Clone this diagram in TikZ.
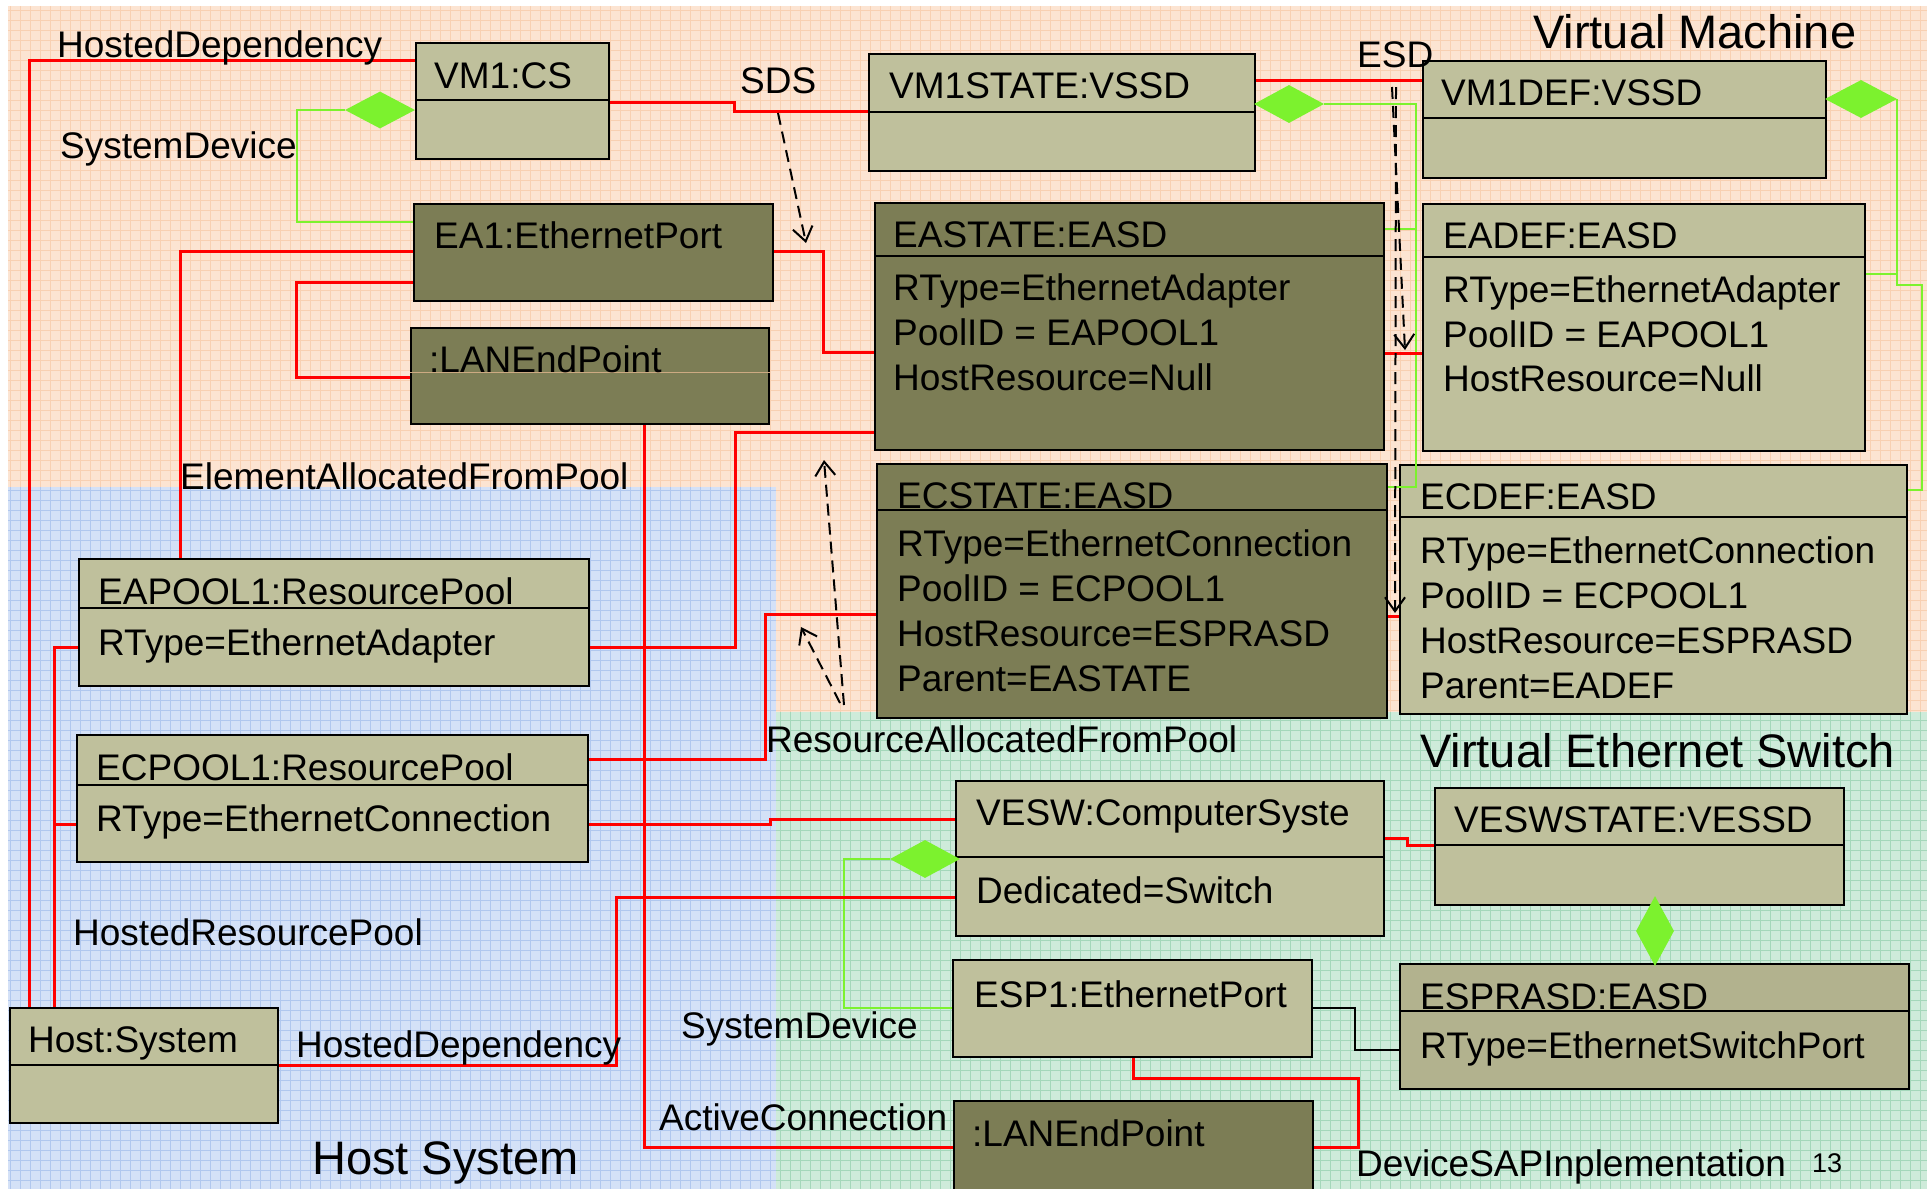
\documentclass[tikz,border=0pt]{standalone}
\usepackage{fontspec}
\setmainfont{Liberation Sans}
\usetikzlibrary{shapes.geometric,arrows.meta}
\definecolor{peach}{RGB}{252,228,210}
\definecolor{peachgrid}{RGB}{248,208,178}
\definecolor{hostblue}{RGB}{212,225,247}
\definecolor{hostgrid}{RGB}{176,199,238}
\definecolor{swgreen}{RGB}{206,235,218}
\definecolor{swgrid}{RGB}{164,215,186}
\definecolor{boxlight}{RGB}{191,192,156}
\definecolor{boxdark}{RGB}{124,125,85}
\definecolor{boxmid}{RGB}{178,178,142}
\definecolor{relred}{RGB}{255,0,0}
\definecolor{aggreen}{RGB}{124,242,46}
\definecolor{tanline}{RGB}{205,170,130}
\tikzset{
  lbox/.style={draw=black,line width=2pt,fill=boxlight,anchor=north west,inner sep=0pt},
  dbox/.style={lbox,fill=boxdark},
  mbox/.style={lbox,fill=boxmid},
  divline/.style={draw=black,line width=2pt},
  txt/.style={anchor=base west,inner sep=0pt,font=\fontsize{37}{44}\selectfont},
  big/.style={txt,font=\fontsize{47}{54}\selectfont},
  agg/.style={diamond,fill=aggreen,inner sep=0pt},
  rline/.style={draw=relred,line width=3pt},
  gline/.style={draw=aggreen,line width=2pt},
  bline/.style={draw=black,line width=2pt},
  darrow/.style={draw=black,line width=2pt,dash pattern=on 12pt off 7pt,-{Straight Barb[length=14pt,width=20pt]}}
}
\begin{document}
\begin{tikzpicture}[x=1pt,y=-1pt]
  \useasboundingbox (0,0) rectangle (1931,1189);
  % background areas
  \begin{scope}[y=1pt]
    \fill[white] (0,-1189) rectangle (1931,0);
    \fill[peach] (8,-1189) rectangle (1927,-6);
    \draw[peachgrid,line width=0.8pt,step=10pt] (8,-1189) grid (1927,-6);
    \fill[hostblue] (8,-1189) rectangle (776,-487);
    \draw[hostgrid,line width=0.8pt,step=10pt] (8,-1189) grid (776,-487);
    \fill[swgreen] (776,-1189) rectangle (1927,-712);
    \draw[swgrid,line width=0.8pt,step=10pt] (776,-1189) grid (1927,-712);
  \end{scope}

  % boxes
  \node[lbox,minimum width=193pt,minimum height=116pt] (vmcs) at (415,42) {};
  \node[dbox,minimum width=359pt,minimum height=97pt] (eaport) at (413,203) {};
  \node[dbox,minimum width=358pt,minimum height=96pt] (lanup) at (410,327) {};
  \node[lbox,minimum width=386pt,minimum height=117pt] (vmstate) at (868,53) {};
  \node[lbox,minimum width=403pt,minimum height=117pt] (vmdef) at (1422,60) {};
  \node[dbox,minimum width=509pt,minimum height=247pt] (eastate) at (874,202) {};
  \node[lbox,minimum width=442pt,minimum height=247pt] (eadef) at (1422,203) {};
  \node[dbox,minimum width=510pt,minimum height=254pt] (ecstate) at (876,463) {};
  \node[lbox,minimum width=507pt,minimum height=249pt] (ecdef) at (1399,464) {};
  \node[lbox,minimum width=510pt,minimum height=127pt] (eapool) at (78,558) {};
  \node[lbox,minimum width=511pt,minimum height=127pt] (ecpool) at (76,734) {};
  \node[lbox,minimum width=268pt,minimum height=115pt] (host) at (9,1007) {};
  \node[lbox,minimum width=428pt,minimum height=155pt] (vesw) at (955,780) {};
  \node[lbox,minimum width=409pt,minimum height=117pt] (veswstate) at (1434,787) {};
  \node[lbox,minimum width=359pt,minimum height=97pt] (esp) at (952,959) {};
  \node[mbox,minimum width=509pt,minimum height=125pt] (esprasd) at (1399,963) {};
  \node[dbox,minimum width=359pt,minimum height=95pt] (lanlow) at (953,1100) {};

  \draw[divline] (vmcs.west |- 0,100) -- (vmcs.east |- 0,100);
  \draw[divline] (vmstate.west |- 0,112) -- (vmstate.east |- 0,112);
  \draw[divline] (vmdef.west |- 0,118) -- (vmdef.east |- 0,118);
  \draw[divline] (eastate.west |- 0,256) -- (eastate.east |- 0,256);
  \draw[divline] (eadef.west |- 0,257) -- (eadef.east |- 0,257);
  \draw[divline] (ecstate.west |- 0,510) -- (ecstate.east |- 0,510);
  \draw[divline] (ecdef.west |- 0,517) -- (ecdef.east |- 0,517);
  \draw[divline] (eapool.west |- 0,608) -- (eapool.east |- 0,608);
  \draw[divline] (ecpool.west |- 0,785) -- (ecpool.east |- 0,785);
  \draw[divline] (host.west |- 0,1065) -- (host.east |- 0,1065);
  \draw[divline] (vesw.west |- 0,857) -- (vesw.east |- 0,857);
  \draw[divline] (veswstate.west |- 0,845) -- (veswstate.east |- 0,845);
  \draw[divline] (esprasd.west |- 0,1011) -- (esprasd.east |- 0,1011);
  \draw[tanline,line width=0.8pt] (lanup.west |- 0,372) -- (lanup.east |- 0,372);

  % box texts
  \node[txt] (vmcsT) at (434,88) {VM1:CS};
  \node[txt] (eaportT) at (434,248) {EA1:EthernetPort};
  \node[txt] (lanupT) at (429,372) {:LANEndPoint};
  \node[txt] (vmstateT) at (889,98) {VM1STATE:VSSD};
  \node[txt] (vmdefT) at (1441,105) {VM1DEF:VSSD};
  \node[txt] (eastateT) at (893,247) {EASTATE:EASD};
  \node[txt] (eastate1) at (893,300) {RType=EthernetAdapter};
  \node[txt] (eastate2) at (893,345) {PoolID = EAPOOL1};
  \node[txt] (eastate3) at (893,390) {HostResource=Null};
  \node[txt] (eadefT) at (1443,248) {EADEF:EASD};
  \node[txt] (eadef1) at (1443,302) {RType=EthernetAdapter};
  \node[txt] (eadef2) at (1443,347) {PoolID = EAPOOL1};
  \node[txt] (eadef3) at (1443,391) {HostResource=Null};
  \node[txt] (ecstateT) at (897,508) {ECSTATE:EASD};
  \node[txt] (ecstate1) at (897,556) {RType=EthernetConnection};
  \node[txt] (ecstate2) at (897,601) {PoolID = ECPOOL1};
  \node[txt] (ecstate3) at (897,646) {HostResource=ESPRASD};
  \node[txt] (ecstate4) at (897,691) {Parent=EASTATE};
  \node[txt] (ecdefT) at (1420,509) {ECDEF:EASD};
  \node[txt] (ecdef1) at (1420,563) {RType=EthernetConnection};
  \node[txt] (ecdef2) at (1420,608) {PoolID = ECPOOL1};
  \node[txt] (ecdef3) at (1420,653) {HostResource=ESPRASD};
  \node[txt] (ecdef4) at (1420,698) {Parent=EADEF};
  \node[txt] (eapoolT) at (98,604) {EAPOOL1:ResourcePool};
  \node[txt] (eapool1) at (98,655) {RType=EthernetAdapter};
  \node[txt] (ecpoolT) at (96,780) {ECPOOL1:ResourcePool};
  \node[txt] (ecpool1) at (96,831) {RType=EthernetConnection};
  \node[txt] (hostT) at (28,1052) {Host:System};
  \node[txt] (veswT) at (976,825) {VESW:ComputerSyste};
  \node[txt] (vesw1) at (976,903) {Dedicated=Switch};
  \node[txt] (veswstateT) at (1454,832) {VESWSTATE:VESSD};
  \node[txt] (espT) at (974,1007) {ESP1:EthernetPort};
  \node[txt] (esprasdT) at (1420,1009) {ESPRASD:EASD};
  \node[txt] (esprasd1) at (1420,1058) {RType=EthernetSwitchPort};
  \node[txt] (lanlowT) at (972,1146) {:LANEndPoint};

  % aggregation diamonds
  \node[agg,minimum width=70pt,minimum height=37pt] (d1) at (380,110) {};
  \node[agg,minimum width=70pt,minimum height=38pt] (d2) at (1289,104) {};
  \node[agg,minimum width=72pt,minimum height=38pt] (d3) at (1861,99) {};
  \node[agg,minimum width=70pt,minimum height=38pt] (d4) at (925,859) {};
  \node[agg,minimum width=38pt,minimum height=70pt] (d5) at (1655,931) {};

  % system device links
  \coordinate (g2) at (1416,104);
  \draw[gline] (d1.west) -| (297,222) -- (eaport.west |- 0,222);
  \draw[gline] (d2.east) -- (g2) |- (ecstate.east |- 0,487);
  \draw[gline] (eastate.east |- 0,229) -| (g2);
  \draw[gline] (d3.east) |- (1922,285) |- (ecdef.east |- 0,490);
  \draw[gline] (eadef.east |- 0,274) -| (d3.east);
  \draw[gline] (d4.west) -| (844,1008) -- (esp.west |- 0,1008);

  % associations
  \draw[rline] (vmcs.west |- 0,60) -| (host.north -| 29,0);
  \draw[rline] (vmcs.east |- 0,102) -| (734,111) -- (vmstate.west |- 0,111);
  \draw[rline] (vmstate.east |- 0,80) -- (vmdef.west |- 0,80);
  \draw[rline] (eaport.east |- 0,251) -| (823,352) -- (eastate.west |- 0,352);
  \draw[rline] (eastate.east |- 0,353) -- (eadef.west |- 0,353);
  \draw[rline] (eaport.west |- 0,251) -| (eapool.north -| 180,0);
  \draw[rline] (eaport.west |- 0,282) -| (296,377) -- (lanup.west |- 0,377);
  \draw[rline] (eapool.east |- 0,647) -| (735,432) -- (eastate.west |- 0,432);
  \draw[rline] (ecstate.west |- 0,614) -| (765,759) -- (ecpool.east |- 0,759);
  \draw[rline] (ecstate.east |- 0,616) -- (ecdef.west |- 0,616);
  \draw[rline] (ecpool.east |- 0,824) -| (770,819) -- (vesw.west |- 0,819);
  \draw[rline] (eapool.west |- 0,647) -| (host.north -| 54,0);
  \draw[rline] (ecpool.west |- 0,824) -- ++(-22,0);
  \draw[rline] (host.east |- 0,1065) -| (616,897) -- (vesw.west |- 0,897);
  \draw[rline] (lanup.south -| 644,0) |- (lanlow.west |- 0,1147);
  \draw[rline] (esp.south -| 1133,0) |- (1358,1078) |- (lanlow.east |- 0,1147);
  \draw[rline] (vesw.east |- 0,838) -| (1407,845) -- (veswstate.west |- 0,845);
  \draw[bline] (esp.east |- 0,1008) -| (1355,1050) -- (esprasd.west |- 0,1050);

  % dependencies
  \coordinate (sdsA) at (778,113);
  \coordinate (sdsB) at (806,243);
  \coordinate (esdA) at (1392,87);
  \coordinate (esdB) at (1405,350);
  \coordinate (esdC) at (1396,87);
  \coordinate (esdD) at (1395,613);
  \coordinate (rafA) at (844,705);
  \coordinate (rafB) at (824,460);
  \coordinate (rafC) at (840,703);
  \coordinate (rafD) at (801,627);
  \draw[darrow] (sdsA) -- (sdsB);
  \draw[darrow] (esdA) -- (esdB);
  \draw[darrow] (esdC) -- (esdD);
  \draw[darrow] (rafA) -- (rafB);
  \draw[darrow] (rafC) -- (rafD);

  % labels
  \node[txt] (hd1) at (57,57) {HostedDependency};
  \node[txt] (sd1) at (60,158) {SystemDevice};
  \node[txt] (sds) at (740,93) {SDS};
  \node[txt] (esd) at (1357,67) {ESD};
  \node[txt] (eafp) at (180,489) {ElementAllocatedFromPool};
  \node[txt] (rafp) at (766,752) {ResourceAllocatedFromPool};
  \node[txt] (hrp) at (73,945) {HostedResourcePool};
  \node[txt] (hd2) at (296,1057) {HostedDependency};
  \node[txt] (sd2) at (681,1038) {SystemDevice};
  \node[txt] (ac) at (659,1130) {ActiveConnection};
  \node[txt] (dsi) at (1356,1176) {DeviceSAPInplementation};
  \node[big] (vm) at (1533,48) {Virtual Machine};
  \node[big] (ves) at (1420,767) {Virtual Ethernet Switch};
  \node[big] (hs) at (312,1174) {Host System};
  \node[txt,font=\fontsize{27}{30}\selectfont] (pg) at (1812,1172) {13};
\end{tikzpicture}
\end{document}
